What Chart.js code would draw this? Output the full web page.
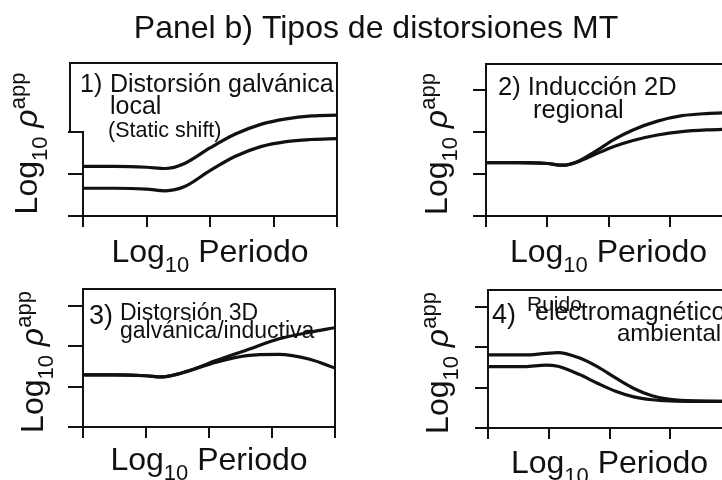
<!DOCTYPE html>
<html>
<head>
<meta charset="utf-8">
<title>Tipos de distorsiones MT</title>
<script src="https://cdn.jsdelivr.net/npm/chart.js@4.4.0/dist/chart.umd.min.js"></script>
<style>
  html, body { margin: 0; padding: 0; background: #fff; overflow: hidden; }
  #wrap { position: relative; width: 722px; height: 480px; overflow: hidden; }
  #wrap canvas { position: absolute; left: 0; top: 0; }
</style>
</head>
<body>
<div id="wrap">
  <canvas id="c1" width="760" height="480"></canvas>
  <canvas id="c2" width="760" height="480"></canvas>
  <canvas id="c3" width="760" height="480"></canvas>
  <canvas id="c4" width="760" height="480"></canvas>
</div>
<script>
const FONT = '"Liberation Sans", Arial, Helvetica, sans-serif';
const W = 760, H = 480;

// ticks (log10 units)
const ejeX = [0, 1, 2, 3, 4];
const ejeY = [0, 1, 2, 3];

// 1) static shift: same curve, shifted down
const periodo1 = [0, 0.5, 1, 1.3, 1.6, 2, 2.4, 2.8, 3.2, 3.6, 4];
const rhoA1 = [1.18, 1.18, 1.16, 1.13, 1.25, 1.62, 1.95, 2.18, 2.31, 2.38, 2.40];
const rhoB1 = [0.66, 0.66, 0.64, 0.60, 0.70, 1.08, 1.42, 1.65, 1.77, 1.82, 1.84];

// 2) induccion 2D regional
const periodo2 = [0, 0.5, 1, 1.25, 1.5, 1.8, 2.1, 2.4, 2.8, 3.2, 3.6, 4];
const rhoA2 = [1.27, 1.27, 1.25, 1.21, 1.30, 1.55, 1.83, 2.05, 2.26, 2.39, 2.44, 2.46];
const rhoB2 = [1.27, 1.27, 1.25, 1.21, 1.29, 1.48, 1.66, 1.80, 1.93, 2.01, 2.05, 2.07];

// 3) distorsion 3D
const periodo3 = [0, 0.5, 1, 1.25, 1.5, 1.8, 2.1, 2.6, 3.1, 3.6, 4];
const rhoA3 = [1.29, 1.29, 1.27, 1.24, 1.31, 1.46, 1.64, 1.91, 2.18, 2.35, 2.46];
const rhoB3 = [1.29, 1.29, 1.27, 1.24, 1.31, 1.45, 1.60, 1.77, 1.80, 1.68, 1.46];

// 4) ruido EM
const periodo4 = [0, 0.6, 0.95, 1.15, 1.5, 1.8, 2.1, 2.4, 2.7, 3.0, 3.4, 4];
const rhoA4 = [1.81, 1.81, 1.85, 1.87, 1.74, 1.52, 1.24, 0.98, 0.80, 0.71, 0.67, 0.66];
const rhoB4 = [1.52, 1.52, 1.56, 1.53, 1.33, 1.11, 0.91, 0.77, 0.70, 0.67, 0.66, 0.66];

function fuente(p) {
    return (p.italic ? 'italic ' : '') + (p.px || 32) + 'px ' + FONT;
}

// texto con subindices / superindices
function drawRich(ctx, parts, x, y, align) {
    let total = 0;
    parts.forEach(p => {
        ctx.font = fuente(p);
        p.w = ctx.measureText(p.t).width;
        total += p.w;
    });
    let cx = align === 'center' ? x - total / 2 : x;
    parts.forEach(p => {
        ctx.font = fuente(p);
        ctx.fillText(p.t, cx, y + (p.dy || 0));
        cx += p.w;
    });
}

const etiquetaX = [{ t: 'Log' }, { t: '10', px: 22, dy: 10 }, { t: ' Periodo' }];
const etiquetaY = [{ t: 'Log' }, { t: '10', px: 22, dy: 10 }, { t: ' ' }, { t: 'ρ', italic: true }, { t: 'app', px: 22, dy: -12 }];

const marcoPlugin = {
    id: 'marco',
    beforeDatasetsDraw(chart, args, opts) {
        const { ctx, chartArea: a, scales } = chart;
        const x = scales.x, y = scales.y;
        ctx.save();
        ctx.strokeStyle = '#111';
        ctx.lineWidth = 2;
        ctx.beginPath();
        ctx.rect(a.left, a.top, a.right - a.left, a.bottom - a.top);
        ejeY.forEach(v => {
            const py = Math.round(y.getPixelForValue(v));
            ctx.moveTo(a.left - opts.tickY, py);
            ctx.lineTo(a.left, py);
        });
        ejeX.forEach(v => {
            const px = Math.round(x.getPixelForValue(v));
            ctx.moveTo(px, a.bottom);
            ctx.lineTo(px, a.bottom + 11);
        });
        ctx.stroke();

        // caja del rotulo que tapa el eje en el panel 1
        if (opts.muesca) {
            const yb = Math.round(y.getPixelForValue(opts.muesca.hasta));
            const xl = a.left - opts.muesca.ancho;
            ctx.fillStyle = '#fff';
            ctx.fillRect(a.left - 22, a.top + 1, 24, yb - a.top - 2);
            ctx.beginPath();
            ctx.moveTo(a.left, yb);
            ctx.lineTo(xl, yb);
            ctx.lineTo(xl, a.top);
            ctx.lineTo(a.left + 1, a.top);
            ctx.stroke();
        }
        ctx.restore();
    },
    afterDatasetsDraw(chart, args, opts) {
        const { ctx, chartArea: a } = chart;
        ctx.save();
        ctx.fillStyle = '#111';
        ctx.textBaseline = 'alphabetic';
        ctx.textAlign = 'left';

        if (opts.titulo) {
            drawRich(ctx, [{ t: opts.titulo }], opts.tituloX, opts.tituloY, 'center');
        }

        // rotulo eje x
        drawRich(ctx, etiquetaX, (a.left + a.right) / 2, a.bottom + opts.xLabelDy, 'center');

        // rotulo eje y, girado
        ctx.save();
        ctx.translate(a.left - opts.yLabelDx, (a.top + a.bottom) / 2 + opts.yLabelDy);
        ctx.rotate(-Math.PI / 2);
        drawRich(ctx, etiquetaY, 0, 0, 'center');
        ctx.restore();

        (opts.notas || []).forEach(n => {
            drawRich(ctx, [{ t: n.t, px: n.px }], n.x, n.y, n.align || 'left');
        });
        ctx.restore();
    }
};

function makePanel(id, area, yMax, periodo, serieA, serieB, extra) {
    const linea = (data) => ({
        data: periodo.map((p, i) => ({ x: p, y: data[i] })),
        borderColor: '#111',
        borderWidth: 3.2,
        pointRadius: 0,
        fill: false,
        cubicInterpolationMode: 'monotone'
    });
    return new Chart(document.getElementById(id), {
        type: 'line',
        data: { datasets: [linea(serieA), linea(serieB)] },
        options: {
            responsive: false,
            animation: false,
            events: [],
            layout: {
                padding: { left: area.left, top: area.top, right: W - area.right, bottom: H - area.bottom }
            },
            scales: {
                x: { type: 'linear', min: 0, max: 4, display: false },
                y: { type: 'linear', min: 0, max: yMax, display: false }
            },
            plugins: {
                legend: { display: false },
                tooltip: { enabled: false },
                marco: Object.assign({ tickY: 15, xLabelDy: 46, yLabelDx: 46, yLabelDy: 4 }, extra)
            }
        },
        plugins: [marcoPlugin]
    });
}

makePanel('c1', { left: 83, top: 63, right: 337, bottom: 216 }, 3.64, periodo1, rhoA1, rhoB1, {
    titulo: 'Panel b) Tipos de distorsiones MT', tituloX: 376, tituloY: 38,
    muesca: { hasta: 2, ancho: 13 },
    notas: [
        { t: '1)', x: 80, y: 92, px: 25 },
        { t: 'Distorsión galvánica', x: 110, y: 92, px: 25 },
        { t: 'local', x: 110, y: 114, px: 25 },
        { t: '(Static shift)', x: 108, y: 137, px: 21.5 }
    ]
});

makePanel('c2', { left: 486, top: 64, right: 731, bottom: 216 }, 3.62, periodo2, rhoA2, rhoB2, {
    tickY: 13, yLabelDx: 39,
    notas: [
        { t: '2) Inducción 2D', x: 498, y: 95, px: 25.5 },
        { t: 'regional', x: 533, y: 118, px: 25.5 }
    ]
});

makePanel('c3', { left: 83, top: 289, right: 335, bottom: 427 }, 3.42, periodo3, rhoA3, rhoB3, {
    yLabelDx: 40, xLabelDy: 43,
    notas: [
        { t: '3)', x: 89, y: 324, px: 27 },
        { t: 'Distorsión 3D', x: 120, y: 320, px: 23 },
        { t: 'galvánica/inductiva', x: 120, y: 338, px: 23 }
    ]
});

makePanel('c4', { left: 488, top: 290, right: 731, bottom: 428 }, 3.42, periodo4, rhoA4, rhoB4, {
    tickY: 13, yLabelDx: 40, xLabelDy: 45,
    notas: [
        { t: '4)', x: 492, y: 323, px: 27 },
        { t: 'Ruido', x: 527, y: 311, px: 21 },
        { t: 'electromagnético', x: 535, y: 320, px: 25 },
        { t: 'ambiental', x: 617, y: 341, px: 24 }
    ]
});
</script>
</body>
</html>
